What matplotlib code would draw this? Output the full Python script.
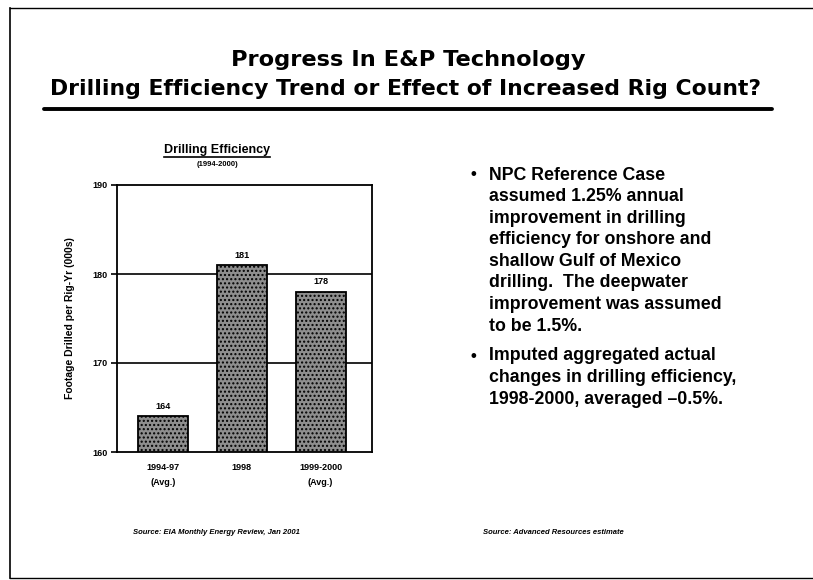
import matplotlib
matplotlib.use('Agg')
import matplotlib.pyplot as plt
from matplotlib.lines import Line2D

plt.rcParams['font.family'] = ['Liberation Sans', 'DejaVu Sans']

PERIODS = ['1994-97\n(Avg.)', '1998', '1999-2000\n(Avg.)']
FOOTAGE = [164, 181, 178]
Y_TICKS = [160, 170, 180, 190]

BULLET1 = ['NPC Reference Case',
           'assumed 1.25% annual',
           'improvement in drilling',
           'efficiency for onshore and',
           'shallow Gulf of Mexico',
           'drilling.  The deepwater',
           'improvement was assumed',
           'to be 1.5%.']
BULLET2 = ['Imputed aggregated actual',
           'changes in drilling efficiency,',
           '1998-2000, averaged \u20130.5%.']

W, H = 813, 580
fig = plt.figure(figsize=(W / 100, H / 100), dpi=100)


def fx(px):
    return px / W


def fy(py):
    return 1 - py / H


def fit_width(t, target):
    # scale the font so the text spans roughly target pixels
    fig.canvas.draw()
    w = t.get_window_extent(fig.canvas.get_renderer()).width
    t.set_fontsize(t.get_fontsize() * target / w)


# slide frame
fig.add_artist(Line2D([fx(10), fx(10)], [fy(8), fy(578)], color='black', lw=1.2))
fig.add_artist(Line2D([fx(10), 1], [fy(8), fy(8)], color='black', lw=1.0))
fig.add_artist(Line2D([fx(10), 1], [fy(578), fy(578)], color='black', lw=1.0))

# titles
t1 = fig.text(fx(408), fy(60), 'Progress In E&P Technology', ha='center', va='center',
              fontsize=15, fontweight='bold', family='DejaVu Sans')
t2 = fig.text(fx(405), fy(89), 'Drilling Efficiency Trend or Effect of Increased Rig Count?',
              ha='center', va='center', fontsize=15, fontweight='bold',
              family='DejaVu Sans')
fit_width(t1, 355)
fit_width(t2, 712)
fig.add_artist(Line2D([fx(44), fx(772)], [fy(109), fy(109)], color='black', lw=2.8,
                      solid_capstyle='round'))

# bar chart
ax = fig.add_axes([fx(117), fy(452), fx(372) - fx(117), (452 - 185) / H])
x = list(range(len(PERIODS)))
ax.bar(x, [v - 160 for v in FOOTAGE], bottom=160, width=0.63, color='#8e8e8e',
       edgecolor='black', linewidth=1.3, hatch='....', zorder=3)
for xi, v in zip(x, FOOTAGE):
    ax.text(xi, v + 0.6, str(v), ha='center', va='bottom', fontsize=6.5,
            fontweight='bold')
ax.set_xlim(-0.58, 2.65)
ax.set_ylim(160, 190)
ax.set_yticks(Y_TICKS)
ax.set_yticklabels([str(t) for t in Y_TICKS], fontsize=6.5, fontweight='bold')
ax.set_xticks(x)
ax.set_xticklabels(PERIODS, fontsize=6.5, fontweight='bold', linespacing=1.8)
ax.tick_params(axis='x', length=0, pad=8)
ax.tick_params(axis='y', length=4, width=1.2, direction='out', pad=3)
for y in [170, 180]:
    ax.axhline(y, color='black', lw=1.2, zorder=1)
for s in ax.spines.values():
    s.set_linewidth(1.3)
ax.set_ylabel('Footage Drilled per Rig-Yr (000s)', fontsize=7.5, fontweight='bold',
              labelpad=12)

sub = fig.text(fx(217), fy(150), 'Drilling Efficiency', ha='center', va='center',
               fontsize=9, fontweight='bold')
fig.text(fx(217), fy(164), '(1994-2000)', ha='center', va='center',
         fontsize=5.5, fontweight='bold')

# bullet text
line_h = 21.6
y0 = 175
for i, line in enumerate(BULLET1):
    fig.text(fx(489), fy(y0 + i * line_h), line, ha='left', va='center',
             fontsize=12.8, fontweight='bold')
fig.text(fx(470), fy(y0), '\u2022', ha='left', va='center', fontsize=12,
         fontweight='bold')
y1 = 356
for i, line in enumerate(BULLET2):
    fig.text(fx(489), fy(y1 + i * line_h), line, ha='left', va='center',
             fontsize=12.8, fontweight='bold')
fig.text(fx(470), fy(y1), '\u2022', ha='left', va='center', fontsize=12,
         fontweight='bold')

# sources
fig.text(fx(133), fy(533), 'Source: EIA Monthly Energy Review, Jan 2001', ha='left',
         va='center', fontsize=5.5, fontweight='bold', style='italic')
fig.text(fx(483), fy(533), 'Source: Advanced Resources estimate', ha='left',
         va='center', fontsize=5.5, fontweight='bold', style='italic')

# underline the chart title
fig.canvas.draw()
bb = sub.get_window_extent(fig.canvas.get_renderer())
fig.add_artist(Line2D([bb.x0 / W, bb.x1 / W], [bb.y0 / H - 0.002] * 2,
                      color='black', lw=1.2))

fig.savefig('out.png', dpi=100)
